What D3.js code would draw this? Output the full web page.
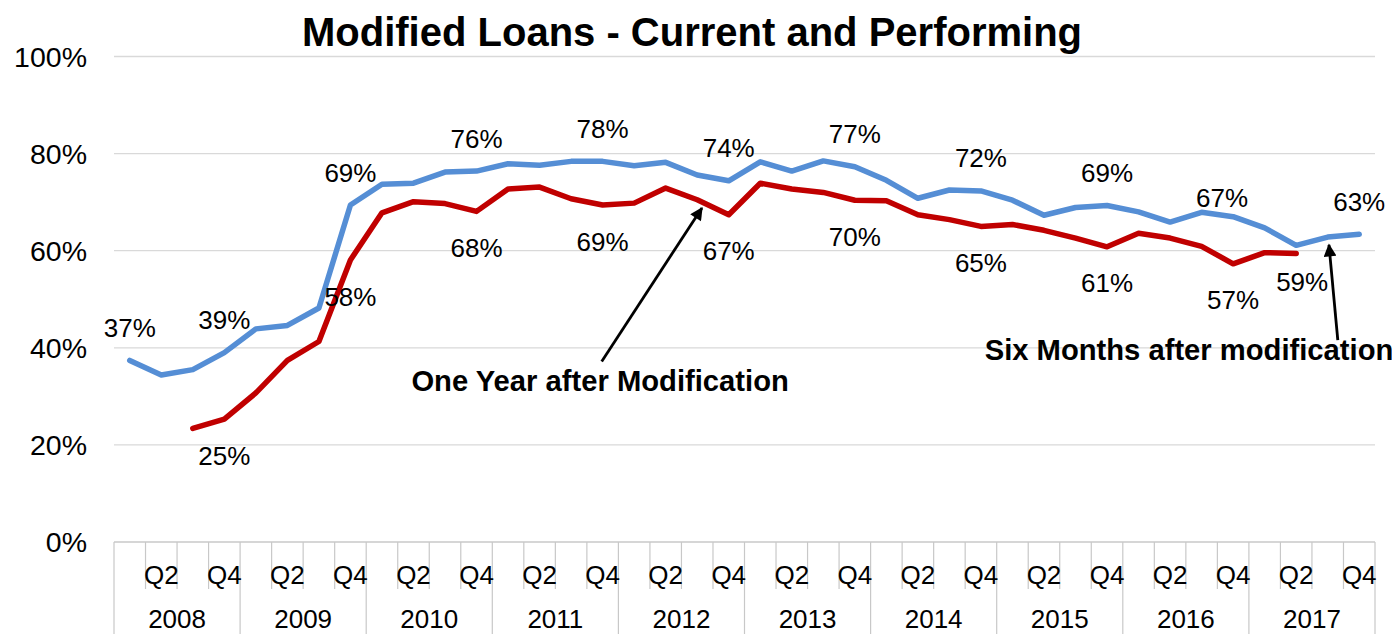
<!DOCTYPE html>
<html>
<head>
<meta charset="utf-8">
<script src="https://cdn.jsdelivr.net/npm/d3@7"></script>
<style>
  html, body { margin: 0; padding: 0; background: #fff; }
  svg { display: block; font-family: "Liberation Sans", Arial, sans-serif; }
</style>
</head>
<body>
<svg id="chart" width="1392" height="634"></svg>
<script>
// ---------------- data ----------------
const title = "Modified Loans - Current and Performing";
const years = ["2008","2009","2010","2011","2012","2013","2014","2015","2016","2017"];
const quarterNames = ["Q1","Q2","Q3","Q4"];
const quarterTickLabels = ["", "Q2", "", "Q4"];
const yTicks = [0, 20, 40, 60, 80, 100];

// Six months after modification (blue), % current and performing
const sixMonths = [37.4, 34.4, 35.5, 39.0, 43.9, 44.6, 48.2, 69.4,
                   73.7, 73.9, 76.2, 76.4, 77.9, 77.6, 78.4, 78.4,
                   77.5, 78.2, 75.6, 74.4, 78.3, 76.4, 78.5, 77.3,
                   74.5, 70.8, 72.5, 72.3, 70.4, 67.3, 68.9, 69.3,
                   68.0, 65.9, 67.9, 67.0, 64.7, 61.1, 62.8, 63.4];
// One year after modification (red)
const oneYear = [null, null, 23.4, 25.3, 30.7, 37.4, 41.3, 58.1,
                 67.8, 70.1, 69.7, 68.1, 72.7, 73.1, 70.7, 69.4,
                 69.8, 72.9, 70.5, 67.4, 73.9, 72.7, 72.0, 70.4,
                 70.3, 67.4, 66.4, 65.0, 65.4, 64.2, 62.6, 60.8,
                 63.6, 62.6, 60.9, 57.3, 59.6, 59.4, null, null];

// which points carry a data label (quarter index)
const sixMonthsLabelIdx = [0, 3, 7, 11, 15, 19, 23, 27, 31, 35, 39];
const oneYearLabelIdx = [3, 7, 11, 15, 19, 23, 27, 31, 35, 37];

// annotations (in data space: quarter index, value)
const annotations = [
  { text: "One Year after Modification", tx: 14.92, ty: 31.2, from: [14.97, 37.2], to: [18.15, 68.8] },
  { text: "Six Months after modification", tx: 33.6, ty: 37.5, from: [38.32, 41.6], to: [38.04, 61.2] }
];

// ---------------- layout ----------------
const svg = d3.select("#chart");
const W = 1392, H = 634;
const plot = { left: 114, right: 1375, top: 56.5, bottom: 542 };

const categories = [];
years.forEach(y => quarterNames.forEach(q => categories.push(y + " " + q)));

const xBand = d3.scaleBand().domain(categories).range([plot.left, plot.right]).padding(0);
const xYear = d3.scaleBand().domain(years).range([plot.left, plot.right]).padding(0);
const bw = xBand.bandwidth();
const xi = i => xBand(categories[i]) + bw / 2;
const xIdx = d3.scaleLinear().domain([-0.5, categories.length - 0.5]).range([plot.left, plot.right]);
const y = d3.scaleLinear().domain([0, 100]).range([plot.bottom, plot.top]);

const gridColor = "#d9d9d9";
const axisColor = "#c8c8c8";
const blue = "#558ED5";
const red = "#C00000";
const labelFont = 26;

// gridlines
svg.append("g").selectAll("line").data(yTicks.filter(t => t > 0)).join("line")
  .attr("x1", plot.left).attr("x2", plot.right)
  .attr("y1", d => y(d)).attr("y2", d => y(d))
  .attr("stroke", gridColor).attr("stroke-width", 1.3);

// y tick labels
svg.append("g").selectAll("text").data(yTicks).join("text")
  .attr("x", 87).attr("y", d => y(d)).attr("dy", "0.36em")
  .attr("text-anchor", "end").attr("font-size", 28.5).attr("fill", "#000")
  .text(d => d + "%");

// x axis line
svg.append("line")
  .attr("x1", plot.left).attr("x2", plot.right)
  .attr("y1", plot.bottom).attr("y2", plot.bottom)
  .attr("stroke", axisColor).attr("stroke-width", 1.3);

// quarter boundary ticks
const boundaries = d3.range(categories.length + 1);
svg.append("g").selectAll("line").data(boundaries).join("line")
  .attr("x1", i => i < categories.length ? xBand(categories[i]) : plot.right)
  .attr("x2", i => i < categories.length ? xBand(categories[i]) : plot.right)
  .attr("y1", plot.bottom)
  .attr("y2", i => (i % 4 === 0) ? H : plot.bottom + 47)
  .attr("stroke", axisColor).attr("stroke-width", 1.2);

// quarter labels
svg.append("g").selectAll("text").data(categories).join("text")
  .attr("x", (d) => xBand(d) + bw / 2)
  .attr("y", 584)
  .attr("text-anchor", "middle").attr("font-size", labelFont)
  .text((d, i) => quarterTickLabels[i % 4]);

// year labels
svg.append("g").selectAll("text").data(years).join("text")
  .attr("x", d => xYear(d) + xYear.bandwidth() / 2)
  .attr("y", 628)
  .attr("text-anchor", "middle").attr("font-size", labelFont)
  .text(d => d);

// lines
const line = d3.line()
  .defined(d => d.v != null)
  .x(d => xi(d.i)).y(d => y(d.v));

const blueData = sixMonths.map((v, i) => ({ i, v }));
const redData = oneYear.map((v, i) => ({ i, v }));

svg.append("path").datum(blueData).attr("d", line)
  .attr("fill", "none").attr("stroke", blue).attr("stroke-width", 5.5)
  .attr("stroke-linejoin", "round").attr("stroke-linecap", "round");
svg.append("path").datum(redData).attr("d", line)
  .attr("fill", "none").attr("stroke", red).attr("stroke-width", 5.5)
  .attr("stroke-linejoin", "round").attr("stroke-linecap", "round");

// data labels
const fmt = v => d3.format(".0f")(v) + "%";
const labelAdjust = { "blue-35": [-11, 14], "red-37": [6, -8] };

svg.append("g").selectAll("text").data(sixMonthsLabelIdx).join("text")
  .attr("x", i => xi(i) + ((labelAdjust["blue-" + i] || [0, 0])[0]))
  .attr("y", i => y(sixMonths[i]) - 23.5 + ((labelAdjust["blue-" + i] || [0, 0])[1]))
  .attr("text-anchor", "middle").attr("font-size", labelFont)
  .text(i => fmt(sixMonths[i]));

svg.append("g").selectAll("text").data(oneYearLabelIdx).join("text")
  .attr("x", i => xi(i) + ((labelAdjust["red-" + i] || [0, 0])[0]))
  .attr("y", i => y(oneYear[i]) + 45.6 + ((labelAdjust["red-" + i] || [0, 0])[1]))
  .attr("text-anchor", "middle").attr("font-size", labelFont)
  .text(i => fmt(oneYear[i]));

// arrow marker
svg.append("defs").append("marker")
  .attr("id", "arrow").attr("viewBox", "0 0 10 10")
  .attr("refX", 9).attr("refY", 5)
  .attr("markerWidth", 5).attr("markerHeight", 4.6)
  .attr("markerUnits", "strokeWidth")
  .attr("orient", "auto")
  .append("path").attr("d", "M0,0 L10,5 L0,10 z").attr("fill", "#000");

// annotations
annotations.forEach(a => {
  svg.append("line")
    .attr("x1", xIdx(a.from[0])).attr("y1", y(a.from[1]))
    .attr("x2", xIdx(a.to[0])).attr("y2", y(a.to[1]))
    .attr("stroke", "#000").attr("stroke-width", 2.8)
    .attr("marker-end", "url(#arrow)");
  svg.append("text")
    .attr("x", xIdx(a.tx)).attr("y", y(a.ty))
    .attr("text-anchor", "middle").attr("font-size", 29.2).attr("font-weight", "bold")
    .text(a.text);
});

// title
svg.append("text")
  .attr("x", 692).attr("y", 46)
  .attr("text-anchor", "middle").attr("font-size", 40).attr("font-weight", "bold")
  .text(title);
</script>
</body>
</html>
